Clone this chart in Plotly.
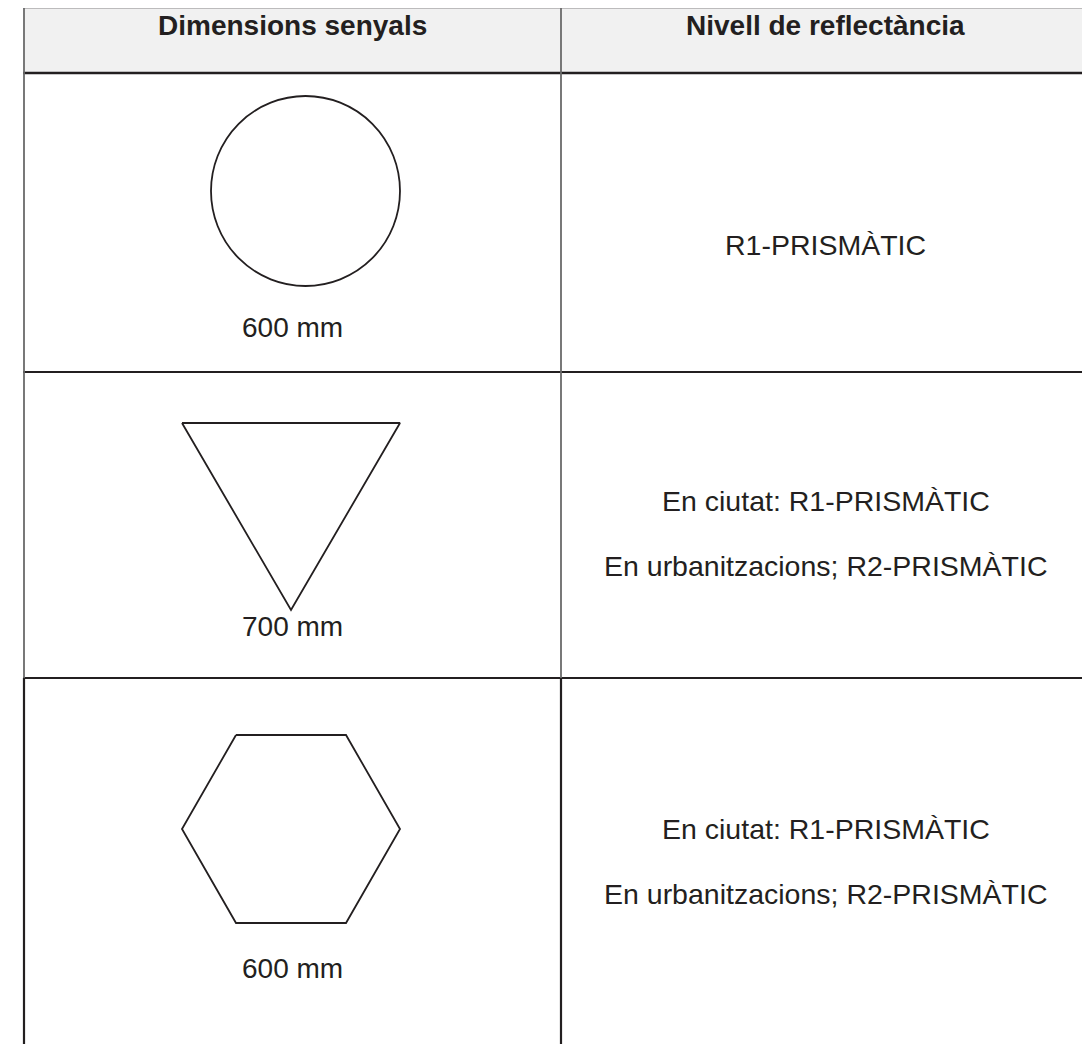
import plotly.graph_objects as go

# Table content
headers = ["Dimensions senyals", "Nivell de reflectància"]
sizes = ["600 mm", "700 mm", "600 mm"]
shape_kinds = ["circle", "triangle", "hexagon"]
reflect = [["R1-PRISMÀTIC"],
           ["En ciutat: R1-PRISMÀTIC", "En urbanitzacions; R2-PRISMÀTIC"],
           ["En ciutat: R1-PRISMÀTIC", "En urbanitzacions; R2-PRISMÀTIC"]]

W, H = 1090, 1044
OFF = 8  # page body margin
DARK = "#231f20"
GRAY = "#6a6a6a"
FONT = "Liberation Sans, Arial, sans-serif"

# layout geometry (pixel space)
x_left, x_mid, x_right = 24, 561, 1100
y_top, y_head = 7, 73
row_lines = [372, 678]
row_bottom = 1070

shapes = []
shapes.append(dict(type="rect", x0=x_left, x1=x_right, y0=y_top, y1=y_head,
                   fillcolor="#f1f1f1", line=dict(width=0), layer="below"))
for y, w in [(y_top, 2.4), (y_head, 2.4), (row_lines[0], 1.8), (row_lines[1], 2.2)]:
    shapes.append(dict(type="line", x0=x_left - 1, x1=x_right, y0=y, y1=y,
                       line=dict(color=DARK, width=w)))
for x in [x_left, x_mid]:
    shapes.append(dict(type="line", x0=x, x1=x, y0=y_top, y1=row_lines[1],
                       line=dict(color=GRAY, width=1.8)))
    shapes.append(dict(type="line", x0=x, x1=x, y0=row_lines[1], y1=row_bottom,
                       line=dict(color=DARK, width=2.2)))

traces = []
shapes.append(dict(type="circle", x0=211, x1=400, y0=96, y1=286,
                   line=dict(color=DARK, width=1.8)))
tri_x = [182, 400, 291, 182]
tri_y = [423, 423, 610, 423]
traces.append(go.Scatter(x=tri_x, y=tri_y, mode="lines",
                         line=dict(color=DARK, width=1.8), hoverinfo="skip"))
hex_x = [236, 346, 400, 346, 236, 182, 236]
hex_y = [735, 735, 829, 923, 923, 829, 735]
traces.append(go.Scatter(x=hex_x, y=hex_y, mode="lines",
                         line=dict(color=DARK, width=1.8), hoverinfo="skip"))

fig = go.Figure(traces)

ann = []
col_c = [(x_left + x_mid) / 2, (x_mid + 1090) / 2]
for c, h in zip(col_c, headers):
    ann.append(dict(x=c, y=25, text=f"<b>{h}</b>", showarrow=False,
                    font=dict(family=FONT, size=28, color=DARK),
                    xanchor="center", yanchor="middle"))
size_y = [327, 626, 968]
for s, y in zip(sizes, size_y):
    ann.append(dict(x=col_c[0], y=y, text=s, showarrow=False,
                    font=dict(family=FONT, size=28, color=DARK),
                    xanchor="center", yanchor="middle"))
ref_y = [[245], [501, 566], [829, 894]]
for lines, ys in zip(reflect, ref_y):
    for t, y in zip(lines, ys):
        ann.append(dict(x=col_c[1], y=y, text=t, showarrow=False,
                        font=dict(family=FONT, size=28.5, color=DARK),
                        xanchor="center", yanchor="middle"))

fig.update_layout(
    width=W, height=H, margin=dict(l=0, r=0, t=0, b=0),
    paper_bgcolor="white", plot_bgcolor="white", showlegend=False,
    xaxis=dict(range=[OFF, W + OFF], visible=False, fixedrange=True),
    yaxis=dict(range=[H + OFF, OFF], visible=False, fixedrange=True),
    shapes=shapes, annotations=ann,
)
fig.write_html("out.html", config={"displayModeBar": False})
